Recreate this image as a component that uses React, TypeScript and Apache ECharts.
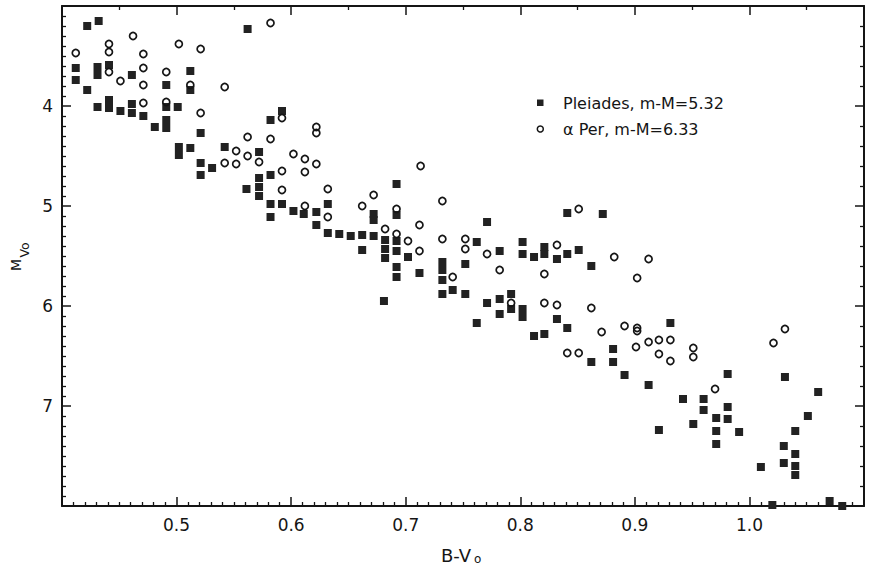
import React, { useEffect, useRef } from "react";
import * as echarts from "echarts";

// Pleiades, m-M=5.32 : [B-V0, MV0]
const pleiades: number[][] = [
  [0.422, 3.2], [0.432, 3.15], [0.562, 3.23], [0.412, 3.62], [0.412, 3.74], [0.422, 3.84],
  [0.431, 3.61], [0.431, 3.69], [0.441, 3.59], [0.461, 3.69], [0.431, 4.01], [0.441, 3.94],
  [0.441, 4.02], [0.451, 4.05], [0.461, 3.98], [0.461, 4.07], [0.471, 4.1], [0.481, 4.21],
  [0.491, 4.14], [0.491, 4.22], [0.491, 4.01], [0.501, 4.01], [0.491, 3.79], [0.512, 3.65],
  [0.512, 3.84], [0.521, 4.27], [0.502, 4.41], [0.502, 4.49], [0.512, 4.42], [0.521, 4.57],
  [0.521, 4.69], [0.531, 4.62], [0.542, 4.41], [0.572, 4.46], [0.582, 4.14], [0.592, 4.05],
  [0.582, 4.69], [0.561, 4.83], [0.572, 4.72], [0.572, 4.81], [0.572, 4.9], [0.582, 4.98],
  [0.582, 5.11], [0.592, 4.98], [0.602, 5.05], [0.692, 4.78], [0.611, 5.08], [0.622, 5.06],
  [0.622, 5.19], [0.632, 4.98], [0.632, 5.27], [0.642, 5.28], [0.652, 5.3], [0.662, 5.29],
  [0.662, 5.44], [0.672, 5.08], [0.672, 5.14], [0.672, 5.3], [0.682, 5.34], [0.682, 5.43],
  [0.682, 5.52], [0.692, 5.35], [0.692, 5.45], [0.692, 5.61], [0.692, 5.71], [0.702, 5.51],
  [0.712, 5.67], [0.692, 5.09], [0.681, 5.95], [0.732, 5.56], [0.732, 5.64], [0.732, 5.74],
  [0.732, 5.88], [0.741, 5.84], [0.752, 5.58], [0.752, 5.88], [0.762, 5.36], [0.771, 5.16],
  [0.771, 5.97], [0.762, 6.17], [0.782, 5.45], [0.782, 5.93], [0.782, 6.08], [0.792, 5.88],
  [0.792, 6.03], [0.802, 5.36], [0.802, 5.48], [0.802, 6.03], [0.802, 6.11], [0.812, 5.51],
  [0.812, 6.3], [0.821, 5.41], [0.821, 5.48], [0.821, 6.28], [0.832, 5.53], [0.832, 6.13],
  [0.841, 5.07], [0.841, 5.48], [0.841, 6.22], [0.851, 5.44], [0.872, 5.08], [0.862, 5.6],
  [0.931, 6.17], [0.881, 6.43], [0.862, 6.56], [0.881, 6.56], [0.891, 6.69], [0.981, 6.68],
  [1.031, 6.71], [0.912, 6.79], [1.06, 6.86], [0.942, 6.93], [0.96, 6.93], [0.96, 7.04],
  [0.981, 7.01], [0.981, 7.13], [0.971, 7.12], [1.051, 7.1], [0.951, 7.18], [0.921, 7.24],
  [0.971, 7.25], [0.991, 7.26], [1.04, 7.25], [0.971, 7.38], [1.03, 7.4], [1.04, 7.48],
  [1.03, 7.57], [1.04, 7.6], [1.04, 7.69], [1.01, 7.61], [1.07, 7.95], [1.02, 7.99], [1.081, 8.0],
];

// alpha Per, m-M=6.33 : [B-V0, MV0]
const alphaPer: number[][] = [
  [0.412, 3.47], [0.462, 3.3], [0.441, 3.38], [0.441, 3.46], [0.441, 3.66], [0.451, 3.75],
  [0.471, 3.48], [0.471, 3.62], [0.471, 3.79], [0.471, 3.97], [0.502, 3.38], [0.491, 3.66],
  [0.491, 3.96], [0.521, 3.43], [0.512, 3.79], [0.542, 3.81], [0.582, 3.17], [0.521, 4.07],
  [0.562, 4.31], [0.582, 4.33], [0.552, 4.45], [0.562, 4.5], [0.572, 4.56], [0.552, 4.58],
  [0.542, 4.57], [0.602, 4.48], [0.592, 4.12], [0.592, 4.65], [0.592, 4.84], [0.622, 4.21],
  [0.622, 4.27], [0.612, 4.53], [0.622, 4.58], [0.612, 4.66], [0.632, 4.83], [0.672, 4.89],
  [0.713, 4.6], [0.732, 4.95], [0.662, 5.0], [0.612, 5.0], [0.632, 5.11], [0.692, 5.03],
  [0.682, 5.23], [0.692, 5.28], [0.702, 5.35], [0.712, 5.19], [0.712, 5.45], [0.732, 5.33],
  [0.741, 5.71], [0.752, 5.33], [0.752, 5.43], [0.771, 5.48], [0.782, 5.64], [0.792, 5.97],
  [0.821, 5.68], [0.821, 5.97], [0.832, 5.39], [0.832, 5.99], [0.841, 6.47], [0.851, 6.47],
  [0.851, 5.03], [0.882, 5.51], [0.912, 5.53], [0.902, 5.72], [0.862, 6.02], [0.891, 6.2],
  [0.902, 6.22], [0.902, 6.25], [0.871, 6.26], [0.901, 6.41], [0.912, 6.36], [0.921, 6.34],
  [0.921, 6.48], [0.931, 6.34], [0.931, 6.55], [0.951, 6.42], [0.951, 6.51], [1.031, 6.23],
  [1.021, 6.37], [0.97, 6.83],
];

const seriesNames = ["Pleiades, m-M=5.32", "\u03b1 Per, m-M=6.33"];
const xTitle = ["B-V", "o"];
const yTitle = ["M", "Vo"];
const xRange = [0.4, 1.1];
const yRange = [3, 8];

const FONT = "DejaVu Sans";
const INK = "#151515";

export default function App() {
  const ref = useRef<HTMLDivElement>(null);

  useEffect(() => {
    if (!ref.current) return;
    const chart = echarts.init(ref.current, undefined, { renderer: "svg" });

    const axisLine = { show: true, onZero: false, lineStyle: { color: INK, width: 2 } };
    const tick = { show: true, inside: true, length: 9, lineStyle: { color: INK, width: 1.5 } };
    const minor = (n: number) => ({ show: true, splitNumber: n, length: 4, lineStyle: { color: INK, width: 1.3 } });

    chart.setOption({
      animation: false,
      backgroundColor: "#ffffff",
      grid: { left: 62, right: 10, top: 6, bottom: 62, containLabel: false },
      xAxis: [
        {
          type: "value", position: "bottom", min: xRange[0], max: xRange[1], interval: 0.1,
          axisLine, axisTick: tick, minorTick: minor(10), splitLine: { show: false },
          axisLabel: {
            margin: 10, fontSize: 17, fontFamily: FONT, color: INK,
            formatter: (v: number) => (v < 0.45 || v > 1.05 ? "" : v.toFixed(1)),
          },
        },
        {
          type: "value", position: "top", min: xRange[0], max: xRange[1], interval: 0.1,
          axisLine, axisTick: tick, minorTick: minor(2), splitLine: { show: false },
          axisLabel: { show: false },
        },
      ],
      yAxis: [
        {
          type: "value", position: "left", inverse: true, min: yRange[0], max: yRange[1], interval: 1,
          axisLine, axisTick: tick, minorTick: minor(10), splitLine: { show: false },
          axisLabel: {
            margin: 9, fontSize: 17, fontFamily: FONT, color: INK,
            formatter: (v: number) => (v <= 3 || v >= 8 ? "" : String(v)),
          },
        },
        {
          type: "value", position: "right", inverse: true, min: yRange[0], max: yRange[1], interval: 1,
          axisLine, axisTick: tick, minorTick: minor(5), splitLine: { show: false },
          axisLabel: { show: false },
        },
      ],
      series: [
        {
          name: seriesNames[0], type: "scatter", xAxisIndex: 0, yAxisIndex: 0,
          symbol: "rect", symbolSize: 8, clip: false,
          itemStyle: { color: "#222222", opacity: 1 },
          data: pleiades,
        },
        {
          name: seriesNames[1], type: "scatter", xAxisIndex: 0, yAxisIndex: 0,
          symbol: "circle", symbolSize: 7, clip: false,
          itemStyle: { color: "rgba(255,255,255,0)", borderColor: INK, borderWidth: 1.7, opacity: 1 },
          data: alphaPer,
        },
      ],
      graphic: [
        { type: "rect", shape: { x: 537, y: 99.5, width: 6.5, height: 6.5 }, style: { fill: "#222222" } },
        { type: "text", x: 563, y: 103, style: { text: seriesNames[0], fontSize: 16, fontFamily: FONT, fill: INK, verticalAlign: "middle", align: "left" } },
        { type: "circle", shape: { cx: 540.3, cy: 129, r: 3 }, style: { fill: "none", stroke: INK, lineWidth: 1.5 } },
        { type: "text", x: 563, y: 129.5, style: { text: seriesNames[1], fontSize: 16, fontFamily: FONT, fill: INK, verticalAlign: "middle", align: "left" } },
        { type: "text", x: 441, y: 555, style: { text: xTitle[0], fontSize: 18, fontFamily: FONT, fill: INK, verticalAlign: "middle", align: "left" } },
        { type: "text", x: 474, y: 559, style: { text: xTitle[1], fontSize: 12, fontFamily: FONT, fill: INK, verticalAlign: "middle", align: "left" } },
        { type: "text", x: 15.5, y: 265, rotation: Math.PI / 2, style: { text: yTitle[0], fontSize: 14, fontFamily: FONT, fill: INK, verticalAlign: "middle", align: "center" } },
        { type: "text", x: 24.5, y: 250, rotation: Math.PI / 2, style: { text: yTitle[1], fontSize: 12.5, fontFamily: FONT, fill: INK, verticalAlign: "middle", align: "center" } },
      ],
    });

    return () => chart.dispose();
  }, []);

  return (
    <div
      ref={ref}
      style={{ position: "absolute", left: 0, top: 0, width: 874, height: 568, background: "#fff" }}
    />
  );
}
